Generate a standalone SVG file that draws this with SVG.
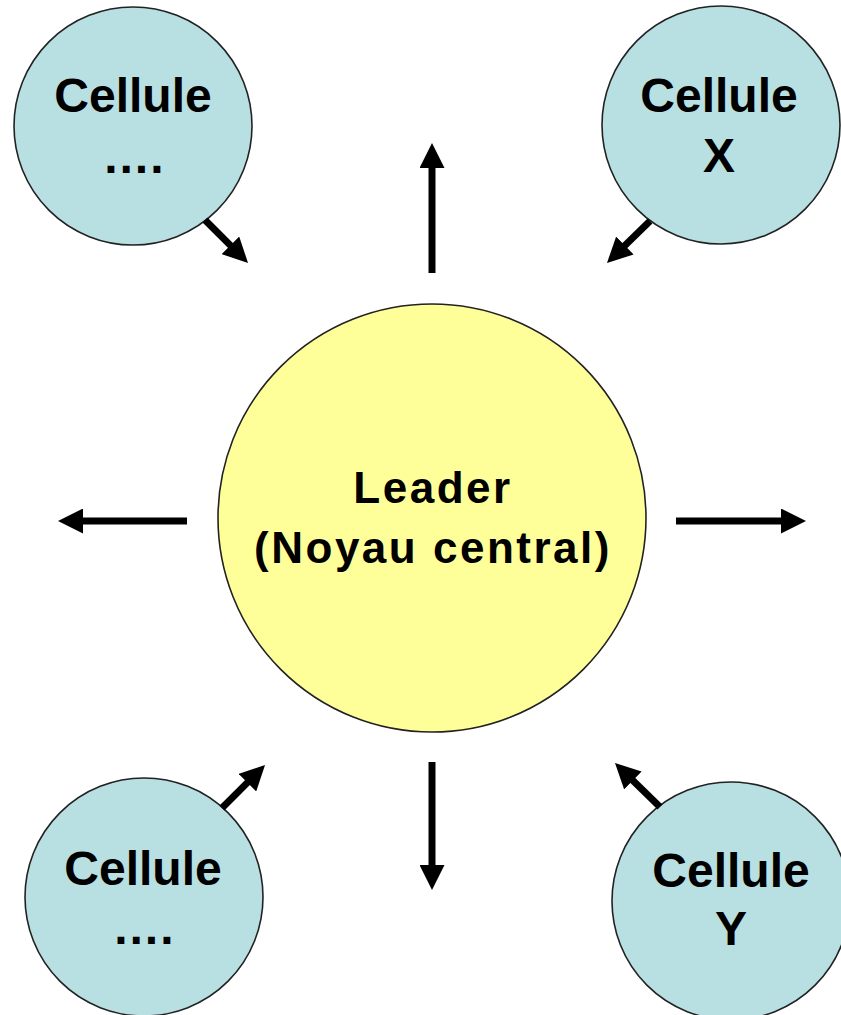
<svg xmlns="http://www.w3.org/2000/svg" width="841" height="1015" viewBox="0 0 841 1015">
  <defs>
    <style>
      .cell { fill: #B8DFE2; stroke: #222; stroke-width: 1.6; }
      .core { fill: #FFFF99; stroke: #222; stroke-width: 1.6; }
      .lbl { font-family: "Liberation Sans", Arial, sans-serif; font-weight: bold; fill: #000; text-anchor: middle; }
      .cl { font-size: 48px; }
      .ld { font-size: 44px; letter-spacing: 2.5px; }
      .arr { stroke: #000; stroke-width: 7; fill: none; marker-end: url(#head); }
    </style>
    <marker id="head" markerUnits="userSpaceOnUse" markerWidth="25" markerHeight="25" refX="5" refY="12.5" orient="auto">
      <path d="M0,0 L25,12.5 L0,25 Z" fill="#000"/>
    </marker>
  </defs>
  <rect width="841" height="1015" fill="#fff"/>

  <g id="leader">
    <circle class="core" cx="432" cy="518" r="214"/>
    <text class="lbl ld" x="433" y="503">Leader</text>
    <text class="lbl ld" x="433" y="563">(Noyau central)</text>
  </g>

  <g id="cell-top-left">
    <circle class="cell" cx="133" cy="126" r="119"/>
    <text class="lbl cl" x="133" y="112">Cellule</text>
    <text class="lbl cl" x="133" y="173">….</text>
  </g>

  <g id="cell-x">
    <circle class="cell" cx="721" cy="125" r="119"/>
    <text class="lbl cl" x="719" y="112">Cellule</text>
    <text class="lbl cl" x="719" y="172">X</text>
  </g>

  <g id="cell-bottom-left">
    <circle class="cell" cx="144" cy="897" r="119"/>
    <text class="lbl cl" x="143" y="885">Cellule</text>
    <text class="lbl cl" x="143" y="944">….</text>
  </g>

  <g id="cell-y">
    <circle class="cell" cx="731" cy="901" r="119"/>
    <text class="lbl cl" x="731" y="887">Cellule</text>
    <text class="lbl cl" x="731" y="945">Y</text>
  </g>

  <g id="connectors">
    <line class="arr" x1="432" y1="273" x2="432" y2="163"/>
    <line class="arr" x1="432" y1="762" x2="432" y2="870"/>
    <line class="arr" x1="187" y1="521" x2="78" y2="521"/>
    <line class="arr" x1="676" y1="521" x2="786" y2="521"/>
    <line class="arr" x1="205" y1="220" x2="233.9" y2="248.9"/>
    <line class="arr" x1="650" y1="221" x2="621.3" y2="249"/>
    <line class="arr" x1="222" y1="808" x2="250.9" y2="779.1"/>
    <line class="arr" x1="660" y1="807" x2="629.3" y2="777"/>
  </g>
</svg>
